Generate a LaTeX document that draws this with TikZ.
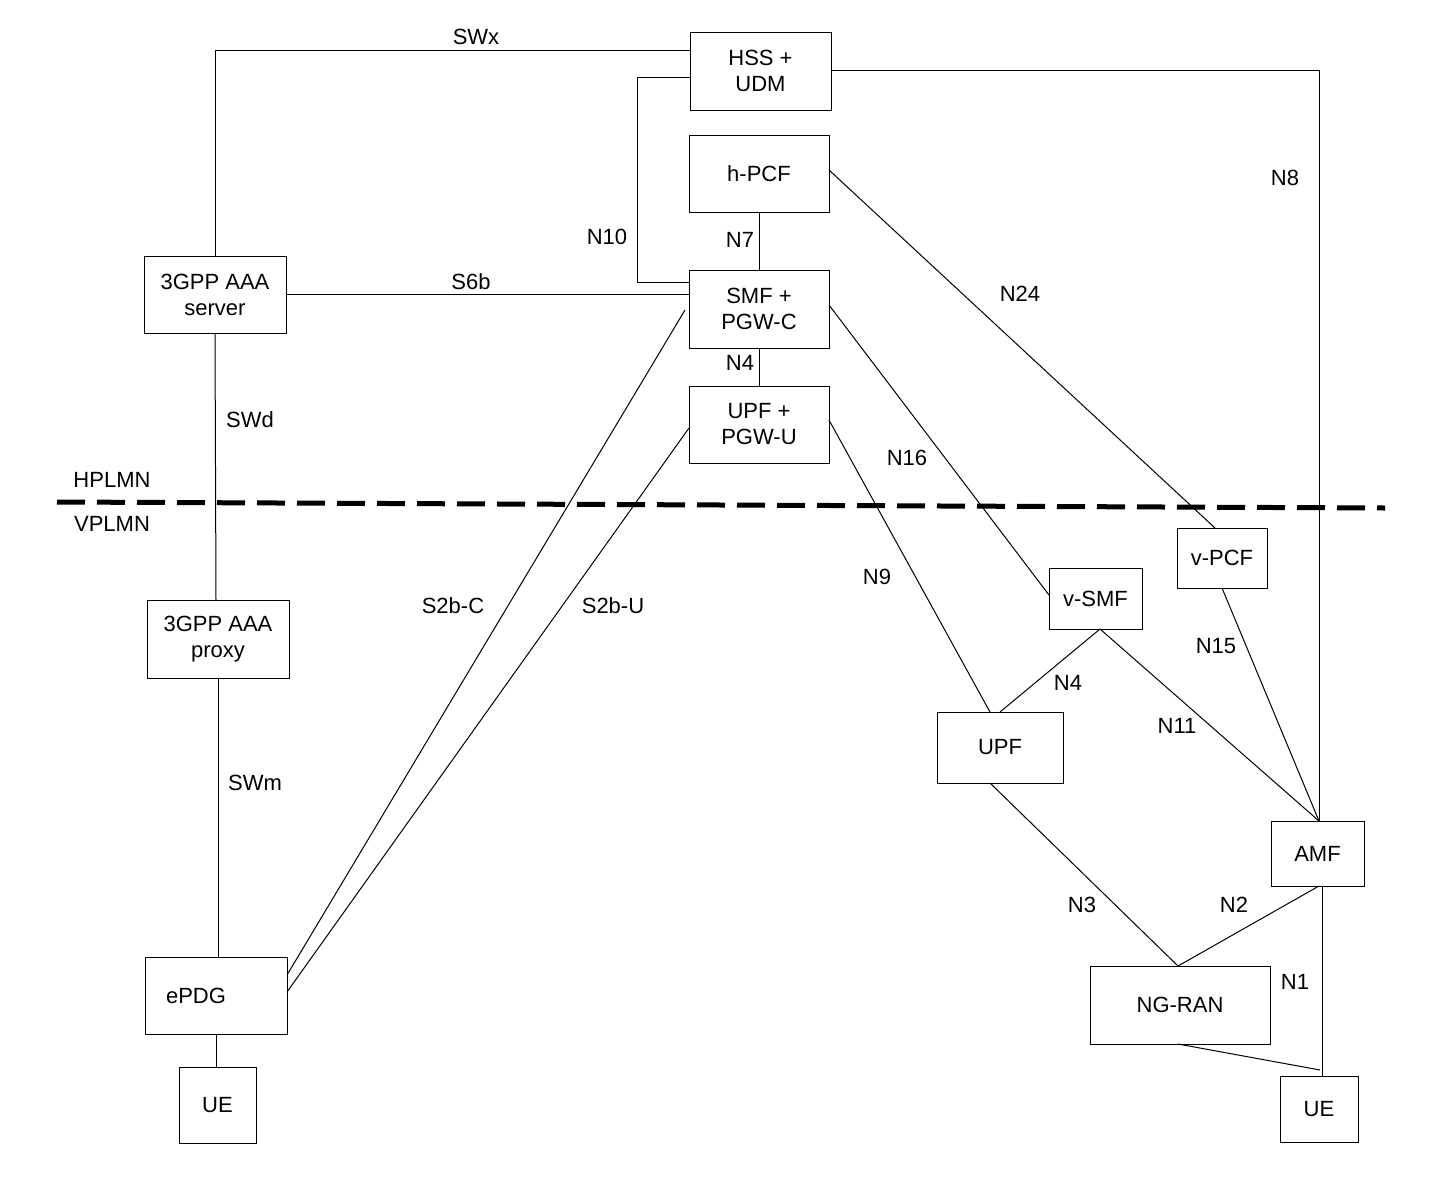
\documentclass[tikz,border=0pt]{standalone}
\usepackage{fontspec}
\setmainfont{Liberation Sans}
\begin{document}
\begin{tikzpicture}[x=1pt,y=-1pt,
  box/.style={draw,line width=1pt,inner sep=0pt,align=center,font=\fontsize{22}{26}\selectfont},
  lbl/.style={font=\fontsize{22}{26}\selectfont,inner sep=0pt},
  ln/.style={line width=1pt}]
\useasboundingbox (0,0) rectangle (1436,1184);
\node[box,minimum width=141,minimum height=78] (hss) at (760.5,71) {HSS +\\UDM};
\node[box,minimum width=140,minimum height=77] (hpcf) at (759,173.5) {h-PCF};
\node[box,minimum width=140,minimum height=78] (smf) at (759,309) {SMF +\\PGW-C};
\node[box,minimum width=140,minimum height=77] (upfp) at (759,424.5) {UPF +\\PGW-U};
\node[box,minimum width=142,minimum height=77] (aaas) at (215,294.5) {3GPP AAA\\server};
\node[box,minimum width=142,minimum height=78] (aaap) at (218,639) {3GPP AAA\\proxy};
\node[box,minimum width=142,minimum height=77] (epdg) at (216,995.5) {ePDG\hspace*{40pt}};
\node[box,minimum width=77,minimum height=76] (ue1) at (217.5,1105) {UE};
\node[box,minimum width=93,minimum height=61] (vsmf) at (1095.5,598.5) {v-SMF};
\node[box,minimum width=90,minimum height=60] (vpcf) at (1222,558) {v-PCF};
\node[box,minimum width=126,minimum height=71] (upf) at (1000,747.5) {UPF};
\node[box,minimum width=93,minimum height=65] (amf) at (1317.5,853.5) {AMF};
\node[box,minimum width=180,minimum height=78] (ngran) at (1180,1005) {NG-RAN};
\node[box,minimum width=78,minimum height=66] (ue2) at (1319,1109) {UE};
% connectors
\coordinate (hssL) at (690,50);
\draw[ln] (aaas.north) |- (hssL);
\coordinate (hssL2) at (690,77);
\coordinate (smfL2) at (689,282);
\draw[ln] (hssL2) -- (637,77) -- (637,282) -- (smfL2);
\coordinate (hssR) at (831,70);
\coordinate (amfT) at (1319,821);
\draw[ln] (hssR) -| (amfT);
\draw[ln] (hpcf.south) -- (smf.north);
\draw[ln] (smf.south) -- (upfp.north);
\coordinate (aaasR) at (286,294);
\coordinate (smfL) at (689,294);
\draw[ln] (aaasR) -- (smfL);
\coordinate (hpcfR) at (829,170);
\coordinate (vpcfT) at (1215,528);
\draw[ln] (hpcfR) -- (vpcfT);
\coordinate (smfR) at (829,305);
\coordinate (vsmfT) at (1049,595);
\draw[ln] (smfR) -- (vsmfT);
\coordinate (upfpR) at (829,420);
\coordinate (upfT) at (990,712);
\draw[ln] (upfpR) -- (upfT);
\draw[ln] (aaas.south) -- (216,600);
\draw[ln] (aaap.south) -- (218,957);
\draw[ln] (epdg.south) -- (216,1067);
\coordinate (epdgR1) at (287,975);
\coordinate (smfL3) at (685,310);
\draw[ln] (epdgR1) -- (smfL3);
\coordinate (epdgR2) at (287,992);
\coordinate (upfpL) at (689,428);
\draw[ln] (epdgR2) -- (upfpL);
\coordinate (vsmfB) at (1100,629);
\coordinate (upfT2) at (1000,712);
\draw[ln] (vsmfB) -- (upfT2);
\draw[ln] (vsmfB) -- (amfT);
\coordinate (vpcfB) at (1222,588);
\draw[ln] (vpcfB) -- (amfT);
\coordinate (upfB) at (990,783);
\coordinate (ngT) at (1178,966);
\draw[ln] (upfB) -- (ngT);
\coordinate (amfB) at (1319,886);
\draw[ln] (amfB) -- (ngT);
\coordinate (amfB2) at (1322,886);
\coordinate (ue2T) at (1322,1076);
\draw[ln] (amfB2) -- (ue2T);
\coordinate (ngB) at (1178,1044);
\coordinate (ue2T2) at (1320,1070);
\draw[ln] (ngB) -- (ue2T2);
% dashed boundary
\coordinate (d1) at (57,502);
\coordinate (d2) at (1385,508);
\draw[line width=5pt,dash pattern=on 28pt off 12pt] (d1) -- (d2);
% labels
\node[lbl] (l1) at (476,37) {SWx};
\node[lbl] (l2) at (607,237) {N10};
\node[lbl] (l3) at (1285,178) {N8};
\node[lbl] (l4) at (740,240) {N7};
\node[lbl] (l5) at (471,282) {S6b};
\node[lbl] (l6) at (740,363) {N4};
\node[lbl] (l7) at (1020,294) {N24};
\node[lbl] (l8) at (907,458) {N16};
\node[lbl] (l9) at (877,577) {N9};
\node[lbl] (l10) at (250,420) {SWd};
\node[lbl] (l11) at (255,783) {SWm};
\node[lbl] (l12) at (453,606) {S2b-C};
\node[lbl] (l13) at (613,606) {S2b-U};
\node[lbl] (l14) at (1068,683) {N4};
\node[lbl] (l15) at (1177,726) {N11};
\node[lbl] (l16) at (1216,646) {N15};
\node[lbl] (l17) at (1082,905) {N3};
\node[lbl] (l18) at (1234,905) {N2};
\node[lbl] (l19) at (1295,982) {N1};
\node[lbl] (l20) at (112,480) {HPLMN};
\node[lbl] (l21) at (112,524) {VPLMN};
\end{tikzpicture}
\end{document}
